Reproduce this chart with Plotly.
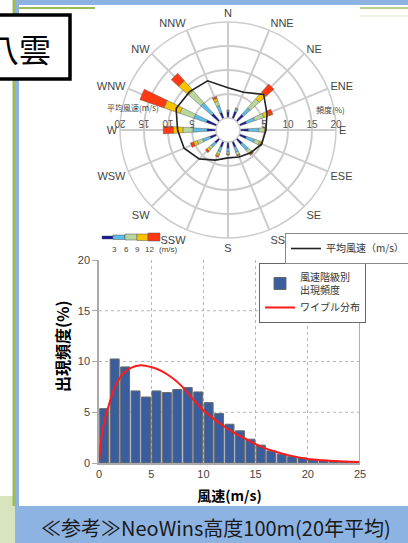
import plotly.graph_objects as go

W, H = 408, 543
def PX(x): return x / W
def PY(y): return 1 - y / H

# ---------------- data ----------------
directions = ["N", "NNE", "NE", "ENE", "E", "ESE", "SE", "SSE",
              "S", "SSW", "SW", "WSW", "W", "WNW", "NW", "NNW"]
speed_classes = ["0-3", "3-6", "6-9", "9-12", "12-"]
class_edges = ["3", "6", "9", "12"]
freq_0_3 = [1.3, 1.6, 1.8, 1.6, 1.8, 1.6, 1.5, 1.3, 1.3, 1.3, 1.2, 1.5, 1.9, 2.3, 2.1, 1.4]
freq_3_6 = [0.2, 0.5, 1.9, 1.8, 2.1, 1.8, 1.6, 1.1, 0.8, 1.0, 1.0, 1.6, 2.9, 2.7, 3.0, 1.5]
freq_6_9 = [0.1, 0.2, 2.5, 2.0, 1.2, 1.1, 0.9, 0.6, 0.4, 0.6, 0.7, 1.2, 2.1, 3.1, 3.4, 1.0]
freq_9_12 = [0.05, 0.1, 1.9, 1.2, 0.2, 0.4, 0.4, 0.2, 0.15, 0.4, 0.5, 0.8, 2.0, 3.5, 2.7, 0.6]
freq_12_up = [0.0, 0.0, 2.2, 0.8, 0.1, 0.3, 0.2, 0.1, 0.05, 0.2, 0.4, 0.7, 2.1, 5.3, 2.1, 0.4]
mean_speed = [6.3, 6.0, 8.0, 6.3, 5.4, 5.1, 4.2, 3.6, 3.3, 4.3, 6.0, 7.4, 8.0, 9.2, 8.8, 8.6]
radial_ticks = [5, 10, 15, 20]

hist_speed = list(range(25))  # bin lower edge (m/s)
hist_freq = [5.36, 10.25, 9.47, 7.1, 6.5, 7.1, 6.94, 7.24, 7.43, 7.0, 5.95, 4.87,
             3.82, 3.17, 2.35, 1.76, 1.2, 0.88, 0.65, 0.5, 0.36, 0.26, 0.2, 0.16, 0.13]
weibull_x = [0, 0.25, 0.5, 1, 1.5, 2, 2.5, 3, 4, 5, 6, 7, 8, 9, 10, 11, 12, 13, 14, 15,
             16, 17, 18, 19, 20, 21, 22, 23, 24, 25]
weibull_y = [0, 2.6, 4.0, 5.9, 7.4, 8.4, 9.0, 9.35, 9.64, 9.45, 9.05, 8.4, 7.5, 6.3, 5.2,
             4.35, 3.6, 2.95, 2.4, 1.86, 1.42, 1.08, 0.8, 0.58, 0.4, 0.3, 0.23, 0.17, 0.13, 0.1]
x_ticks = [0, 5, 10, 15, 20, 25]
y_ticks = [0, 5, 10, 15, 20]

class_colors = ["#14149a", "#5cbde8", "#b9d69c", "#f7c300", "#ff3a12"]

JP = "Noto Sans CJK JP, Liberation Sans, sans-serif"
LAT = "Liberation Sans, Arial, sans-serif"

theta = [i * 360 / len(directions) for i in range(len(directions))]

fig = go.Figure()

# wind rose bars
for name, vals, col in zip(speed_classes,
                           [freq_0_3, freq_3_6, freq_6_9, freq_9_12, freq_12_up],
                           class_colors):
    fig.add_trace(go.Barpolar(r=vals, theta=theta, width=7, name=name,
                              marker=dict(color=col, line=dict(color="#666", width=0.5)),
                              showlegend=False, subplot="polar"))

# mean wind speed line (left scale)
fig.add_trace(go.Scatterpolar(r=mean_speed + mean_speed[:1], theta=theta + theta[:1],
                              mode="lines", line=dict(color="#222", width=1.6),
                              name="平均風速（m/s）", subplot="polar2", legend="legend2"))

# histogram
fig.add_trace(go.Bar(x=[s + 0.5 for s in hist_speed], y=hist_freq, width=0.86,
                     marker=dict(color="#3a5e9d", line=dict(color="#6a6a6a", width=1)),
                     name="風速階級別<br>出現頻度", xaxis="x", yaxis="y"))
fig.add_trace(go.Scatter(x=weibull_x, y=weibull_y, mode="lines",
                         line=dict(color="#ff1a1a", width=2, shape="spline"),
                         name="ワイブル分布", xaxis="x", yaxis="y"))

polar_dom = dict(x=[PX(120), PX(336)], y=[PY(238), PY(22)])
hole = 12 / 108

shapes = []
# page decorations
shapes.append(dict(type="rect", xref="paper", yref="paper", x0=PX(0), x1=PX(15), y0=PY(543), y1=PY(496),
                   fillcolor="#d7e4bd", line_width=0, layer="below"))
shapes.append(dict(type="rect", xref="paper", yref="paper", x0=PX(12.5), x1=PX(15), y0=PY(506), y1=PY(0),
                   fillcolor="#9bbb59", line_width=0))
shapes.append(dict(type="rect", xref="paper", yref="paper", x0=PX(15), x1=PX(19), y0=PY(506), y1=PY(0),
                   fillcolor="#8db3e2", line_width=0))
shapes.append(dict(type="rect", xref="paper", yref="paper", x0=PX(15), x1=PX(408), y0=PY(5), y1=PY(0),
                   fillcolor="#8db3e2", line_width=0))
shapes.append(dict(type="line", xref="paper", yref="paper", x0=PX(19), x1=PX(95), y0=PY(8), y1=PY(8),
                   line=dict(color="#9bbb59", width=2)))
shapes.append(dict(type="line", xref="paper", yref="paper", x0=PX(360), x1=PX(408), y0=PY(8), y1=PY(8),
                   line=dict(color="#b7d08a", width=2)))
shapes.append(dict(type="line", xref="paper", yref="paper", x0=PX(360), x1=PX(408), y0=PY(16), y1=PY(16),
                   line=dict(color="#dfe9cc", width=1)))
shapes.append(dict(type="rect", xref="paper", yref="paper", x0=PX(15), x1=PX(408), y0=PY(543), y1=PY(506),
                   fillcolor="#8db3e2", line_width=0))
shapes.append(dict(type="rect", xref="paper", yref="paper", x0=PX(-6), x1=PX(70), y0=PY(79), y1=PY(15),
                   fillcolor="white", line=dict(color="black", width=3.5)))
# speed class color legend
seg = [(102, 113, 236, 239), (113, 125, 235, 239.5), (125, 137, 234, 240),
       (137, 148, 234, 240.5), (148, 160, 233, 241)]
for (x0, x1, y0, y1), col in zip(seg, class_colors):
    shapes.append(dict(type="rect", xref="paper", yref="paper", x0=PX(x0), x1=PX(x1), y0=PY(y1), y1=PY(y0),
                       fillcolor=col, line=dict(color="#555", width=0.5)))
# histogram grid + right border
for yv in y_ticks[1:-1]:
    shapes.append(dict(type="line", xref="x", yref="y", x0=x_ticks[0], x1=x_ticks[-1], y0=yv, y1=yv,
                       line=dict(color="#b5b5b5", width=1, dash="dot"), layer="below"))
shapes.append(dict(type="line", xref="x", yref="y", x0=x_ticks[-1], x1=x_ticks[-1], y0=y_ticks[0], y1=y_ticks[-1],
                   line=dict(color="#b0b0b0", width=2)))

annotations = [
    dict(text="八雲", x=PX(19), y=PY(48), xref="paper", yref="paper", showarrow=False,
         xanchor="center", yanchor="middle", font=dict(family=JP, size=32, color="black")),
    dict(text="平均風速(m/s)", x=PX(133), y=PY(108), xref="paper", yref="paper", showarrow=False,
         xanchor="center", yanchor="middle", font=dict(family=JP, size=8, color="#444")),
    dict(text="頻度(%)", x=PX(330), y=PY(109), xref="paper", yref="paper", showarrow=False,
         xanchor="center", yanchor="middle", font=dict(family=JP, size=8, color="#444")),
    dict(text="≪参考≫NeoWins高度100m(20年平均)", x=PX(216), y=PY(527), xref="paper", yref="paper",
         xanchor="center", yanchor="middle", showarrow=False, font=dict(family=JP, size=20, color="#1a1a1a")),
    dict(text="<b>出現頻度(%)</b>", x=PX(62), y=PY(346), xref="paper", yref="paper", showarrow=False,
         textangle=-90, xanchor="center", yanchor="middle", font=dict(family=JP, size=16, color="black")),
]
for lab, xx in zip(class_edges + ["(m/s)"], [114, 126, 137, 149, 168]):
    annotations.append(dict(text=lab, x=PX(xx), y=PY(249), xref="paper", yref="paper", showarrow=False,
                            xanchor="center", yanchor="middle", font=dict(family=LAT, size=8, color="#444")))

fig.update_layout(
    width=W, height=H, margin=dict(l=0, r=0, t=0, b=0, autoexpand=False),
    paper_bgcolor="white", plot_bgcolor="white",
    polar=dict(domain=polar_dom, hole=hole, bgcolor="white", barmode="stack",
               radialaxis=dict(range=[0, 20], tickvals=radial_ticks, angle=0, side="counterclockwise",
                               tickangle=0, showline=False, ticks="", gridcolor="#cccccc", gridwidth=1.5,
                               tickfont=dict(family=LAT, size=10, color="#555")),
               angularaxis=dict(rotation=90, direction="clockwise", tickvals=theta, ticktext=directions,
                                ticks="", gridcolor="#cccccc", gridwidth=1.5, linecolor="#cccccc",
                                linewidth=1.5, tickfont=dict(family=LAT, size=11, color="#444"))),
    polar2=dict(domain=polar_dom, hole=hole, bgcolor="rgba(0,0,0,0)",
                radialaxis=dict(range=[0, 20], tickvals=radial_ticks, angle=180, side="clockwise",
                                tickangle=0, showline=False, showgrid=False, ticks="",
                                tickfont=dict(family=LAT, size=10, color="#555")),
                angularaxis=dict(rotation=90, direction="clockwise", showgrid=False, showline=False,
                                 showticklabels=False, ticks="")),
    xaxis=dict(domain=[PX(99), PX(360)], range=[x_ticks[0], x_ticks[-1]], tickvals=x_ticks,
               showgrid=True, griddash="dot", gridcolor="#b5b5b5", zeroline=False,
               showline=True, linecolor="#aaaaaa", linewidth=1.5, ticks="",
               tickfont=dict(family=LAT, size=11, color="#444"),
               title=dict(text="<b>風速(m/s)</b>", font=dict(family=JP, size=14, color="black"), standoff=12),
               anchor="y", automargin=False),
    yaxis=dict(domain=[PY(463), PY(260)], range=[y_ticks[0], y_ticks[-1]], tickvals=y_ticks,
               showgrid=False, zeroline=False, showline=True, linecolor="#aaaaaa", linewidth=1.5,
               ticks="outside", ticklen=5, tickcolor="#aaaaaa",
               tickfont=dict(family=LAT, size=11, color="#444"),
               anchor="x", automargin=False),
    bargap=0.1,
    legend=dict(x=PX(259), y=PY(263), xanchor="left", yanchor="top", bgcolor="white",
                bordercolor="#666", borderwidth=1, font=dict(family=JP, size=10, color="#333"),
                tracegroupgap=0, itemwidth=30),
    legend2=dict(x=PX(285), y=PY(233), xanchor="left", yanchor="top", bgcolor="white",
                 bordercolor="#888", borderwidth=1, font=dict(family=JP, size=10, color="#333"),
                 itemwidth=30),
    shapes=shapes, annotations=annotations,
)

fig.write_html("out.html", config={"displayModeBar": False},
               post_script="document.body.style.margin='0';document.body.style.overflow='hidden';")
